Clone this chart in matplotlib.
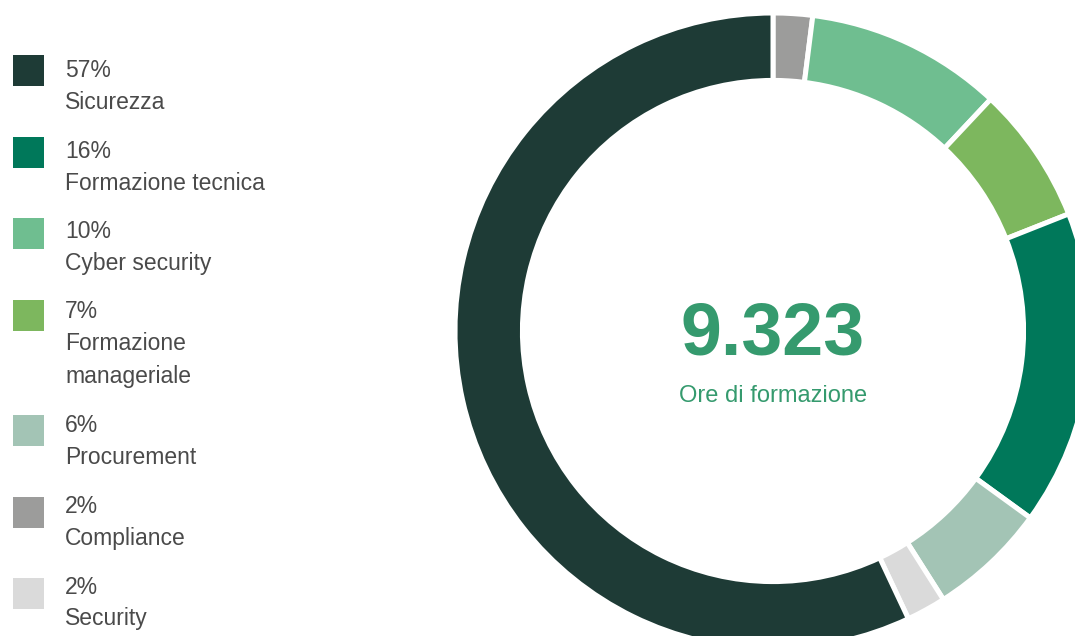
import matplotlib.pyplot as plt

plt.rcParams["font.family"] = ["Liberation Sans", "DejaVu Sans"]

# legend order (top to bottom)
labels = ["Sicurezza", "Formazione tecnica", "Cyber security",
          "Formazione\nmanageriale", "Procurement", "Compliance", "Security"]
shares = [57, 16, 10, 7, 6, 2, 2]
colors = ["#1e3b36", "#00785a", "#6fbe90", "#7db75e", "#a3c4b5", "#9c9c9b", "#dadada"]

# donut draws clockwise from 12 o'clock in this order
ring_order = [5, 2, 3, 1, 4, 6, 0]

total_hours = "9.323"
center_label = "Ore di formazione"

fig = plt.figure(figsize=(10.75, 6.36), dpi=100)

# donut
ax = fig.add_axes([455 / 1075, -13 / 636, 636 / 1075, 636 / 636])
ax.pie([shares[i] for i in ring_order],
       colors=[colors[i] for i in ring_order],
       startangle=90, counterclock=False, radius=1,
       wedgeprops=dict(width=0.212, edgecolor="white", linewidth=3.6))
ax.set_xlim(-1, 1)
ax.set_ylim(-1, 1)
ax.set_aspect("equal")
ax.axis("off")
ax.text(0, -0.075, total_hours, ha="center", va="baseline", fontsize=53,
        fontweight="bold", color="#359a6e")
ax.text(0, -0.223, center_label, ha="center", va="baseline", fontsize=17,
        color="#359a6e")

# legend, laid out in pixel coordinates
lg = fig.add_axes([0, 0, 1, 1])
lg.set_xlim(0, 1075)
lg.set_ylim(636, 0)
lg.axis("off")
sq_y = 55
txt_y = 77
for lab, val, col in zip(labels, shares, colors):
    lg.add_patch(plt.Rectangle((13, sq_y), 31, 31, color=col, lw=0))
    lg.text(65, txt_y, f"{val}%", va="baseline", fontsize=16.5, color="#4a4a4a")
    lines = lab.split("\n")
    for k, ln in enumerate(lines):
        lg.text(65, txt_y + 32 * (k + 1), ln, va="baseline",
                fontsize=16.5, color="#4a4a4a")
    sq_y += 81.5 + (len(lines) - 1) * 34
    txt_y += 80.5 + (len(lines) - 1) * 33.5

fig.savefig("out.png", dpi=100)
